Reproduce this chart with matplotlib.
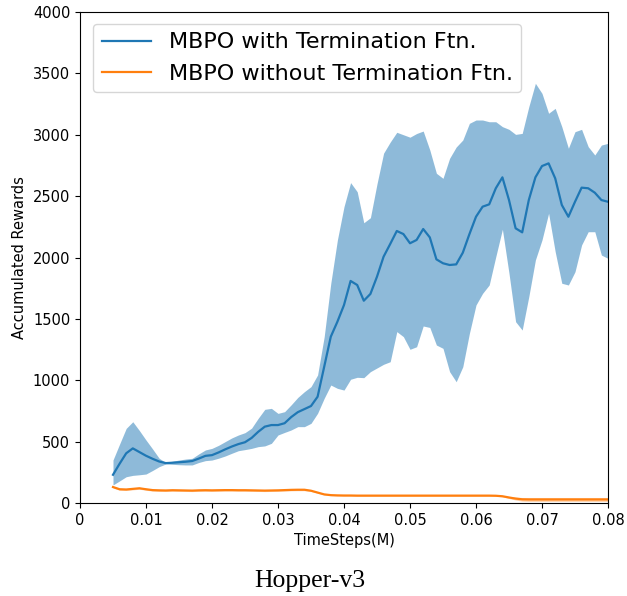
import numpy as np
import matplotlib
matplotlib.use("Agg")
import matplotlib.pyplot as plt

steps = np.round(np.arange(0.005, 0.0805, 0.001), 3)

mean_with = [230, 320, 405, 445, 415, 385, 360, 338, 325, 328,
             332, 336, 342, 362, 384, 390, 412, 437, 460, 480,
             495, 530, 580, 622, 635, 635, 650, 700, 740, 765,
             790, 866, 1110, 1355, 1477, 1613, 1809, 1776, 1648, 1703,
             1844, 2007, 2110, 2216, 2191, 2116, 2143, 2232, 2164, 1985,
             1953, 1939, 1944, 2039, 2190, 2332, 2414, 2433, 2564, 2653,
             2468, 2238, 2205, 2468, 2653, 2745, 2767, 2645, 2428, 2332,
             2454, 2569, 2564, 2528, 2468, 2454]

upper_with = [350, 480, 608, 662, 590, 513, 440, 364, 330, 340,
              350, 358, 364, 400, 432, 445, 470, 500, 530, 554,
              573, 610, 690, 763, 771, 730, 744, 800, 860, 907,
              948, 1043, 1355, 1790, 2143, 2414, 2610, 2536, 2283, 2324,
              2600, 2850, 2940, 3020, 3000, 2980, 3010, 3030, 2876, 2686,
              2645, 2808, 2900, 2957, 3093, 3120, 3120, 3106, 3106, 3066,
              3044, 3003, 3011, 3228, 3419, 3337, 3175, 3215, 3066, 2890,
              3025, 3044, 2903, 2835, 2916, 2930]

lower_with = [147, 180, 214, 225, 230, 236, 265, 296, 318, 315,
              312, 310, 310, 330, 345, 350, 365, 383, 405, 426,
              435, 445, 459, 465, 486, 554, 575, 595, 622, 622,
              649, 731, 853, 961, 934, 920, 1008, 1024, 1021, 1070,
              1100, 1130, 1151, 1396, 1355, 1252, 1273, 1442, 1430, 1287,
              1260, 1070, 988, 1110, 1382, 1613, 1708, 1776, 2007, 2230,
              1871, 1477, 1409, 1681, 1980, 2143, 2360, 2047, 1790, 1776,
              1884, 2102, 2210, 2210, 2020, 1993]

mean_without = [130, 112, 110, 115, 120, 112, 105, 103, 102, 104,
                103, 102, 101, 103, 104, 103, 104, 105, 105, 104,
                104, 103, 102, 101, 102, 103, 105, 107, 108, 108,
                100, 85, 70, 64, 62, 61, 61, 60, 60, 60,
                60, 60, 60, 60, 60, 60, 60, 60, 60, 60,
                60, 60, 60, 60, 60, 60, 60, 60, 59, 55,
                45, 36, 30, 29, 29, 29, 29, 29, 29, 29,
                29, 29, 29, 29, 29, 29]

band_without = [8, 8, 8, 8, 8, 8, 8, 8, 8, 8,
                8, 8, 8, 8, 8, 8, 8, 8, 8, 8,
                8, 8, 8, 8, 8, 8, 8, 8, 8, 8,
                6, 5, 4, 4, 4, 4, 4, 4, 4, 4,
                4, 4, 4, 4, 4, 4, 4, 4, 4, 4,
                4, 4, 4, 4, 4, 4, 4, 4, 4, 5,
                8, 12, 15, 16, 16, 16, 16, 16, 16, 16,
                16, 16, 16, 16, 16, 16]

labels = ["MBPO with Termination Ftn.", "MBPO without Termination Ftn."]

fig = plt.figure(figsize=(6.27, 5.96), dpi=100)
ax = fig.add_axes([80 / 627, 1 - 503 / 596, 528 / 627, 491 / 596])

mw = np.array(mean_without)
bw = np.array(band_without)
ax.fill_between(steps, lower_with, upper_with, color="#1f77b4", alpha=0.5, linewidth=0)
ax.fill_between(steps, mw - bw, mw + bw, color="#ff7f0e", alpha=0.35, linewidth=0)
ax.plot(steps, mean_with, color="#1f77b4", lw=1.6, label=labels[0])
ax.plot(steps, mean_without, color="#ff7f0e", lw=1.6, label=labels[1])

ax.set_xlim(0, 0.08)
ax.set_ylim(0, 4000)
ax.set_xticks([0, 0.01, 0.02, 0.03, 0.04, 0.05, 0.06, 0.07, 0.08])
ax.set_xticklabels(["0", "0.01", "0.02", "0.03", "0.04", "0.05", "0.06", "0.07", "0.08"])
ax.set_yticks(range(0, 4001, 500))
ax.tick_params(labelsize=10.5)
ax.set_xlabel("TimeSteps(M)", fontsize=10.5, labelpad=4)
ax.set_ylabel("Accumulated Rewards", fontsize=10.5)

ax.legend(loc="upper left", fontsize=16, handlelength=2.2, bbox_to_anchor=(0.012, 0.99),
          borderaxespad=0.3, framealpha=0.8)

fig.text(310 / 627, 1 - 581 / 596, "Hopper-v3", fontsize=18.5, family="Liberation Serif",
         ha="center", va="center")

fig.savefig("out.png", dpi=100)
